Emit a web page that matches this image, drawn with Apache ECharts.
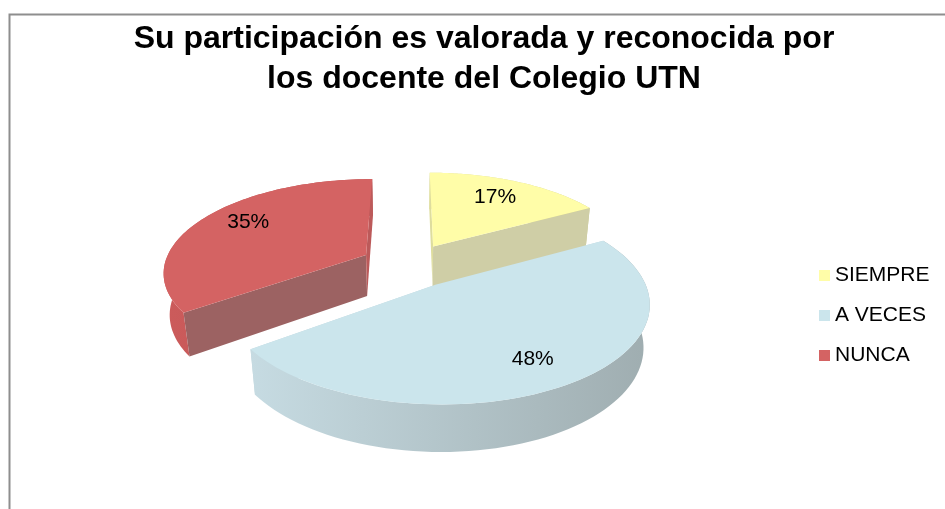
<!DOCTYPE html>
<html><head><meta charset="utf-8">
<style>html,body{margin:0;padding:0;background:#fff}#c{width:945px;height:509px}</style>
<script src="https://cdn.jsdelivr.net/npm/echarts@6/dist/echarts.min.js"></script>
</head><body><div id="c"></div>
<script>
const titleLines = ['Su participación es valorada y reconocida por', 'los docente del Colegio UTN'];
const categories = ['SIEMPRE', 'A VECES', 'NUNCA'];
const values = [17, 48, 35];
const topColors = ['#FFFDA8', '#CBE5EC', '#D46363'];
const startCutColors = ['#DEDD9E', '#C0D6DD', '#9C6262'];
const endCutColors = ['#CFCEA6', '#C0D6DD', '#BC5A5A'];
const cutLayers = [2, 0, 2];
const wallStops = [
  ['#E0DF9A', '#C9C88F'],
  ['#C6DBE2', '#9FADB0'],
  ['#CC5B5B', '#B85555']
];
const labelOffsets = [[-7, 4], [-9, -1], [13, -2]];

// projection of the tilted pie (perspective)
const P = {cx: 409, cy: 265, A: 202, B: 92, p: 0.17, q: 0.025, h: 42.5, explode: 0.243, labelR: 0.8};
const total = values.reduce((a, b) => a + b, 0);

function project(X, Y, Z) {
  const w = 1 + P.p * Y + P.q * Z;
  return [P.cx + P.A * X / w, P.cy + (-P.B * Y + P.h * Z) / w];
}
function sliceRange(i) {
  let s = 0;
  for (let k = 0; k < i; k++) s += values[k];
  return [s / total * Math.PI * 2, (s + values[i]) / total * Math.PI * 2];
}
function renderSlice(i) {
  const [a0, a1] = sliceRange(i);
  const mid = (a0 + a1) / 2;
  const ex = P.explode * Math.sin(mid), ey = P.explode * Math.cos(mid);
  const pt = (r, a, z) => project(ex + r * Math.sin(a), ey + r * Math.cos(a), z);
  const n = 80;
  const arcTop = [], arcBot = [];
  for (let k = 0; k <= n; k++) {
    const a = a0 + (a1 - a0) * k / n;
    arcTop.push(pt(1, a, 0));
    arcBot.push(pt(1, a, 1));
  }
  const apexT = pt(0, 0, 0), apexB = pt(0, 0, 1);
  const poly = (points, fill, z2) => ({type: 'polygon', z2, shape: {points}, style: {fill}});
  const children = [
    poly(arcTop.concat(arcBot.slice().reverse()), new echarts.graphic.LinearGradient(0, 0, 1, 0, [
      {offset: 0, color: wallStops[i][0]}, {offset: 1, color: wallStops[i][1]}
    ]), 1),
    poly([apexT, arcTop[0], arcBot[0], apexB], startCutColors[i], cutLayers[i]),
    poly([apexT, arcTop[n], arcBot[n], apexB], endCutColors[i], cutLayers[i]),
    poly([apexT].concat(arcTop), topColors[i], 3)
  ];
  const lp = pt(P.labelR, mid, 0);
  children.push({
    type: 'text', z2: 4,
    style: {
      text: Math.round(values[i] / total * 100) + '%',
      x: lp[0] + labelOffsets[i][0], y: lp[1] + labelOffsets[i][1],
      align: 'center', verticalAlign: 'middle',
      font: '21px "Liberation Sans", Arial, sans-serif', fill: '#000'
    }
  });
  return {type: 'group', children};
}

const chart = echarts.init(document.getElementById('c'), null, {renderer: 'canvas'});
chart.setOption({
  animation: false,
  backgroundColor: '#fff',
  title: {
    text: titleLines.join('\n'),
    left: 479, top: 14, textAlign: 'center',
    textStyle: {fontFamily: '"Liberation Sans", Arial, sans-serif', fontWeight: 'bold', fontSize: 32, lineHeight: 40, color: '#000'}
  },
  legend: {
    orient: 'vertical', left: 819, top: 264, icon: 'rect', itemWidth: 11, itemHeight: 11,
    itemGap: 17, selectedMode: false, padding: 0, data: categories,
    textStyle: {fontFamily: '"Liberation Sans", Arial, sans-serif', fontSize: 21, color: '#000', padding: [0, 0, 0, 0], lineHeight: 23}
  },
  graphic: [
    {type: 'polyline', shape: {points: [[9.5, 509], [9.5, 14.5], [945, 14.5]]}, style: {stroke: '#8E8E8E', lineWidth: 2, fill: null}}
  ],
  series: categories.map((name, i) => ({
    name, type: 'custom', coordinateSystem: 'none',
    itemStyle: {color: topColors[i]},
    data: [values[i]],
    renderItem: () => renderSlice(i)
  }))
});
</script></body></html>
